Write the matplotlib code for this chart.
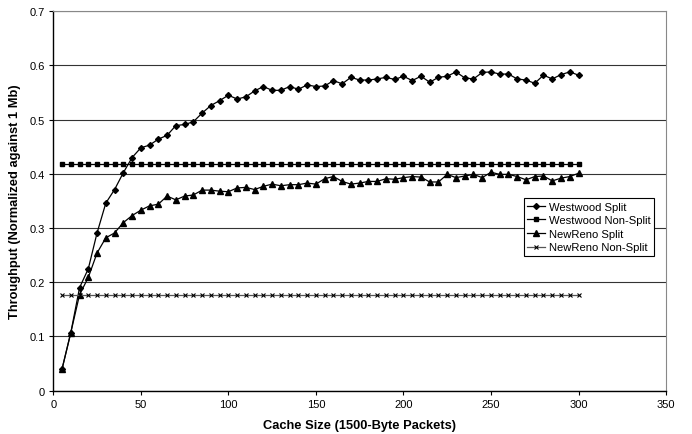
import numpy as np
import matplotlib.pyplot as plt

plt.rcParams['font.family'] = ['Liberation Sans', 'DejaVu Sans']

# cache sizes 5..300 packets
cache = list(range(5, 305, 5))

westwood_split = [0.040, 0.107, 0.190, 0.225, 0.291, 0.346, 0.371, 0.402, 0.430, 0.448,
                  0.453, 0.464, 0.471, 0.489, 0.491, 0.496, 0.512, 0.526, 0.535, 0.545,
                  0.538, 0.542, 0.553, 0.561, 0.554, 0.554, 0.561, 0.556, 0.564, 0.561,
                  0.562, 0.572, 0.566, 0.578, 0.573, 0.573, 0.575, 0.578, 0.574, 0.580,
                  0.572, 0.580, 0.569, 0.578, 0.580, 0.588, 0.577, 0.575, 0.587, 0.588,
                  0.584, 0.584, 0.575, 0.573, 0.567, 0.582, 0.575, 0.583, 0.588, 0.582]

newreno_split = [0.040, 0.107, 0.177, 0.209, 0.254, 0.282, 0.291, 0.310, 0.323, 0.333,
                 0.341, 0.344, 0.359, 0.352, 0.359, 0.361, 0.370, 0.370, 0.368, 0.367,
                 0.374, 0.375, 0.371, 0.377, 0.381, 0.378, 0.380, 0.380, 0.383, 0.381,
                 0.391, 0.395, 0.386, 0.381, 0.383, 0.386, 0.386, 0.391, 0.390, 0.393,
                 0.395, 0.394, 0.385, 0.385, 0.399, 0.393, 0.396, 0.399, 0.393, 0.403,
                 0.399, 0.399, 0.395, 0.389, 0.395, 0.396, 0.387, 0.392, 0.395, 0.401]

westwood_nonsplit = [0.419] * len(cache)
newreno_nonsplit = [0.176] * len(cache)

fig = plt.figure(figsize=(6.92, 4.35), dpi=100)
ax = fig.add_axes([0.077, 0.0995, 0.8855, 0.8725])

ax.plot(cache, westwood_split, color='black', lw=0.9, marker='D', ms=3,
        label='Westwood Split')
ax.plot(cache, westwood_nonsplit, color='black', lw=0.9, marker='s', ms=3.5,
        label='Westwood Non-Split')
ax.plot(cache, newreno_split, color='black', lw=0.9, marker='^', ms=4,
        label='NewReno Split')
ax.plot(cache, newreno_nonsplit, color='#555555', lw=0.9, marker='x', ms=3.5,
        mec='black', mew=0.8, label='NewReno Non-Split')

ax.set_xlim(0, 350)
ax.set_ylim(0, 0.7)
ax.set_xticks(np.arange(0, 351, 50))
ax.set_yticks(np.arange(0, 0.71, 0.1))
ax.set_yticklabels(['0', '0.1', '0.2', '0.3', '0.4', '0.5', '0.6', '0.7'])
ax.tick_params(direction='out', length=3, width=0.8, labelsize=8, pad=3)
ax.yaxis.grid(True, color='#333333', lw=0.8)
ax.set_axisbelow(True)

for side in ['top', 'right']:
    ax.spines[side].set_color('#888888')
for side in ['left', 'bottom']:
    ax.spines[side].set_color('black')
    ax.spines[side].set_linewidth(1.0)

ax.set_xlabel('Cache Size (1500-Byte Packets)', fontsize=9.3, fontweight='bold', labelpad=7)
ax.set_ylabel('Throughput (Normalized against 1 Mb)', fontsize=9.3, fontweight='bold', labelpad=6)

leg = ax.legend(loc='upper right', bbox_to_anchor=(0.98, 0.507), fontsize=8.1,
                frameon=True, fancybox=False, edgecolor='black', framealpha=1,
                handlelength=1.6, handletextpad=0.3, borderpad=0.3, labelspacing=0.32,
                borderaxespad=0)
leg.get_frame().set_linewidth(0.8)

fig.savefig('out.png', dpi=100)
